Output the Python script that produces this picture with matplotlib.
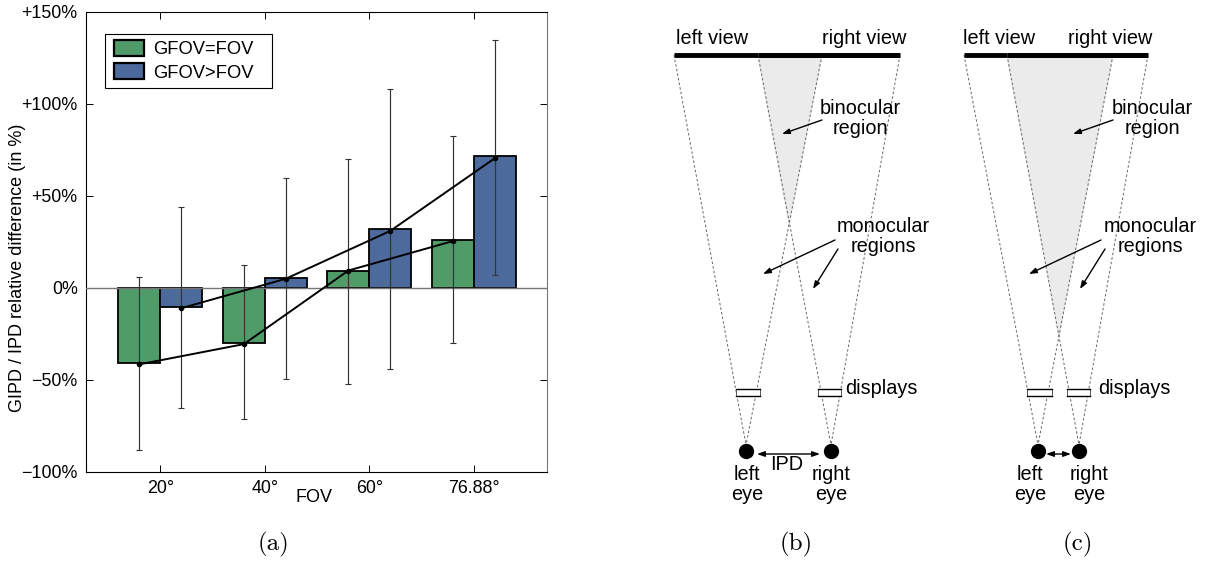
import matplotlib
matplotlib.use("Agg")
import matplotlib.pyplot as plt
from matplotlib.patches import Rectangle
import numpy as np

plt.rcParams["font.family"] = ["Liberation Sans", "DejaVu Sans"]
plt.rcParams["axes.unicode_minus"] = False

categories = ["20°", "40°", "60°", "76.88°"]
green_vals = [-40.5, -30, 9.5, 26]
blue_vals = [-10.5, 5.5, 32, 71.5]
green_mean = [-41.5, -30.5, 9.5, 25.5]
blue_mean = [-11, 5, 31, 70.5]
green_low = [-88, -71, -52, -30]
green_high = [6, 12.5, 70, 82.5]
blue_low = [-65, -49.5, -44, 7]
blue_high = [44, 60, 108, 135]
y_ticks = [-100, -50, 0, 50, 100, 150]
y_labels = ["−100%", "−50%", "0%", "+50%", "+100%", "+150%"]

GREEN = "#4f9c69"
BLUE = "#4c6a9c"
W, H = 1208, 562

fig = plt.figure(figsize=(W / 100, H / 100), dpi=100)
ax = fig.add_axes([86 / W, 1 - 472 / H, (547 - 86) / W, (472 - 12) / H])

x = np.arange(1, 5)
bw = 0.4
ax.bar(x - bw / 2, green_vals, bw, color=GREEN, edgecolor="black", linewidth=1.3, label="GFOV=FOV", zorder=2)
ax.bar(x + bw / 2, blue_vals, bw, color=BLUE, edgecolor="black", linewidth=1.3, label="GFOV>FOV", zorder=2)
ax.axhline(0, color="#777777", linewidth=1, zorder=3)

for xs, mean, low, high in [(x - bw / 2, green_mean, green_low, green_high),
                            (x + bw / 2, blue_mean, blue_low, blue_high)]:
    mean = np.array(mean)
    ax.errorbar(xs, mean, yerr=[mean - np.array(low), np.array(high) - mean], fmt="none",
                ecolor="#333333", elinewidth=0.85, capsize=2.4, capthick=0.8, zorder=4)
    ax.plot(xs, mean, "-o", color="black", linewidth=1.4, markersize=3, zorder=5)

ax.set_xlim(0.29, 4.70)
ax.set_ylim(-100, 150)
ax.set_xticks(x)
ax.set_xticklabels(categories)
ax.set_yticks(y_ticks)
ax.set_yticklabels(y_labels)
ax.tick_params(axis="both", direction="in", top=True, right=True, length=5, width=0.7, labelsize=12.9)
ax.tick_params(axis="x", pad=6)
ax.tick_params(axis="y", pad=6)
for s in ax.spines.values():
    s.set_linewidth(0.8)
ax.spines["right"].set_color("#777777")

# legend box is wider on the right than Legend can pad, so it is its own rectangle
ax.add_patch(Rectangle((105 / W, 1 - 88 / H), 167 / W, 54 / H, transform=fig.transFigure, facecolor="white",
                       edgecolor="black", linewidth=0.8, zorder=6))
leg = ax.legend(loc="upper left", bbox_to_anchor=(28 / 461, 1 - 28 / 460), borderaxespad=0, frameon=False,
                fontsize=13.2, handlelength=1.65, handleheight=1.0, labelspacing=0.25, handletextpad=0.5, borderpad=0)
leg.set_zorder(7)
for patch in leg.get_patches():
    patch.set_linewidth(1.6)

# diagrams drawn in picture pixels
dg = fig.add_axes([0, 0, 1, 1], facecolor="none")
dg.set_xlim(0, W)
dg.set_ylim(H, 0)
dg.axis("off")

fig.text(18 / W, 1 - 268 / H, "GIPD / IPD relative difference (in %)", rotation=90, fontsize=13, ha="center", va="center")
dg.text(314, 497, "FOV", fontsize=13, ha="center", va="center")

# view bar ends, binocular apex, eye x, display spans, label x for panels b and c
panels = [
    dict(bar=(674, 900), top=(674, 758, 822, 900), apex=(789, 224), eyes=(746, 831),
         disp=((736, 760), (818, 841)), views=(712, 864), bino=860, mono=883, mono_t=(835, 838),
         mono_h=(763, 813), bino_arrow=(822, 782), disp_x=845, eye_lab=(747, 831),
         ipd=(757, 820), sub=("(b)", 796)),
    dict(bar=(964, 1148), top=(964, 1007, 1113, 1148), apex=(1059, 336), eyes=(1038, 1079),
         disp=((1027, 1052), (1067, 1090)), views=(999, 1110), bino=1152, mono=1150, mono_t=(1101, 1105),
         mono_h=(1029, 1080), bino_arrow=(1113, 1073), disp_x=1098, eye_lab=(1030, 1089),
         ipd=(1046, 1071), sub=("(c)", 1078)),
]

TOP_Y, EYE_Y, DISP_Y0, DISP_Y1 = 55, 451, 389, 396
DASH = dict(color="#666666", linewidth=0.7, linestyle=(0, (2.6, 2.2)), zorder=2)
ARROW = dict(arrowstyle="-|>,head_length=0.45,head_width=0.16", color="black", linewidth=1.0, shrinkA=0, shrinkB=0)
TXT = dict(fontsize=14.3, ha="center", va="center")

for p in panels:
    t = p["top"]
    dg.fill([t[1], t[2], p["apex"][0]], [TOP_Y, TOP_Y, p["apex"][1]], color="#ebebeb", zorder=1)
    for top_x, eye_x in [(t[0], p["eyes"][0]), (t[2], p["eyes"][0]), (t[1], p["eyes"][1]), (t[3], p["eyes"][1])]:
        dg.plot([top_x, eye_x], [TOP_Y, EYE_Y - 6], **DASH)
    dg.plot([t[0], t[1]], [TOP_Y + 0.2, TOP_Y + 0.2], color="black", linewidth=3.5, solid_capstyle="butt", zorder=4)
    dg.plot([t[1], t[3]], [TOP_Y - 0.1, TOP_Y - 0.1], color="black", linewidth=3.6, solid_capstyle="butt", zorder=4)
    for d in p["disp"]:
        dg.fill([d[0], d[1], d[1], d[0]], [DISP_Y0, DISP_Y0, DISP_Y1, DISP_Y1], facecolor="white",
                edgecolor="#555555", linewidth=0.7, zorder=3)
        dg.plot(d, [DISP_Y0, DISP_Y0], color="black", linewidth=1.0, zorder=3)
        dg.plot(d, [DISP_Y1, DISP_Y1], color="black", linewidth=1.0, zorder=3)
    dg.plot(p["eyes"], [EYE_Y, EYE_Y], "o", color="black", markersize=10, zorder=5)
    dg.annotate("", xy=(p["ipd"][0], EYE_Y + 3), xytext=(p["ipd"][1], EYE_Y + 3),
                arrowprops=dict(ARROW, arrowstyle="<|-|>,head_length=0.45,head_width=0.16"))
    dg.annotate("", xy=(p["bino_arrow"][1], 134), xytext=(p["bino_arrow"][0], 120), arrowprops=ARROW)
    dg.annotate("", xy=(p["mono_h"][0], 274), xytext=(p["mono_t"][0], 240), arrowprops=ARROW)
    dg.annotate("", xy=(p["mono_h"][1], 289), xytext=(p["mono_t"][1], 249), arrowprops=ARROW)
    dg.text(p["views"][0], 39, "left view", **TXT)
    dg.text(p["views"][1], 39, "right view", **TXT)
    dg.text(p["bino"], 108, "binocular", **TXT)
    dg.text(p["bino"], 128, "region", **TXT)
    dg.text(p["mono"], 227, "monocular", **TXT)
    dg.text(p["mono"], 247, "regions", **TXT)
    dg.text(p["disp_x"], 388, "displays", fontsize=14.3, ha="left", va="center")
    dg.text(p["eye_lab"][0], 474, "left", **TXT)
    dg.text(p["eye_lab"][0], 495, "eye", **TXT)
    dg.text(p["eye_lab"][1], 474, "right", **TXT)
    dg.text(p["eye_lab"][1], 495, "eye", **TXT)
    dg.text(p["sub"][1], 544, p["sub"][0], fontsize=18, family="cmr10", ha="center", va="center")

dg.text(787, 464, "IPD", **TXT)
dg.text(274, 544, "(a)", fontsize=18, family="cmr10", ha="center", va="center")

fig.savefig("out.png", dpi=100)
